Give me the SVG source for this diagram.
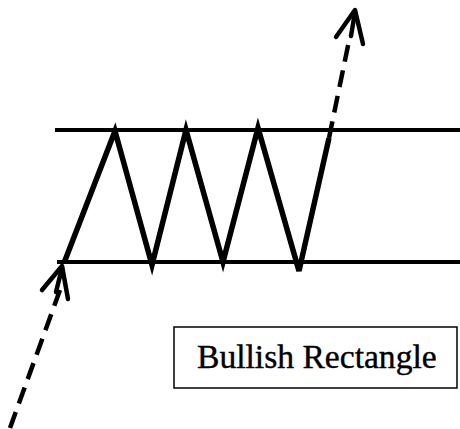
<svg xmlns="http://www.w3.org/2000/svg" width="460" height="429" viewBox="0 0 460 429">
<style>
.solid{stroke:#000;stroke-width:5.5;fill:none;stroke-linejoin:miter;stroke-linecap:butt}
.hline{stroke:#000;stroke-width:4;fill:none}
.dash{stroke:#000;stroke-width:4.5;fill:none;stroke-dasharray:17 9}
.head{stroke:#000;stroke-width:4.5;fill:none;stroke-linecap:round;stroke-linejoin:round}
.label{font-family:"Liberation Serif","Times New Roman",serif;font-size:33.6px;fill:#000;stroke:#000;stroke-width:0.4}
</style>
<rect width="460" height="429" fill="#fff"/>
<g id="top-line"><line class="hline" x1="55" y1="130" x2="460" y2="130"/></g>
<g id="bottom-line"><line class="hline" x1="57" y1="262" x2="460" y2="262"/></g>
<g id="connectors">
<polyline class="solid" points="64,263 115,131 152,265 186,130 223,262 258,128 299,271 329,138"/>
<line class="dash" x1="329" y1="138" x2="350" y2="36"/>
<polyline class="head" points="336,37 355,10 363,44"/>
<line class="head" x1="355" y1="12" x2="351" y2="36"/>
<line class="dash" x1="10" y1="428" x2="60" y2="290"/>
<polyline class="head" points="42,290 62,266 68,299"/>
<line class="head" x1="62" y1="268" x2="56" y2="292"/>
</g>
<g id="label">
<rect x="174" y="327" width="283" height="61" fill="#fff" stroke="#000" stroke-width="1.5"/>
<text class="label" x="197" y="368">Bullish Rectangle</text>
</g>
</svg>
